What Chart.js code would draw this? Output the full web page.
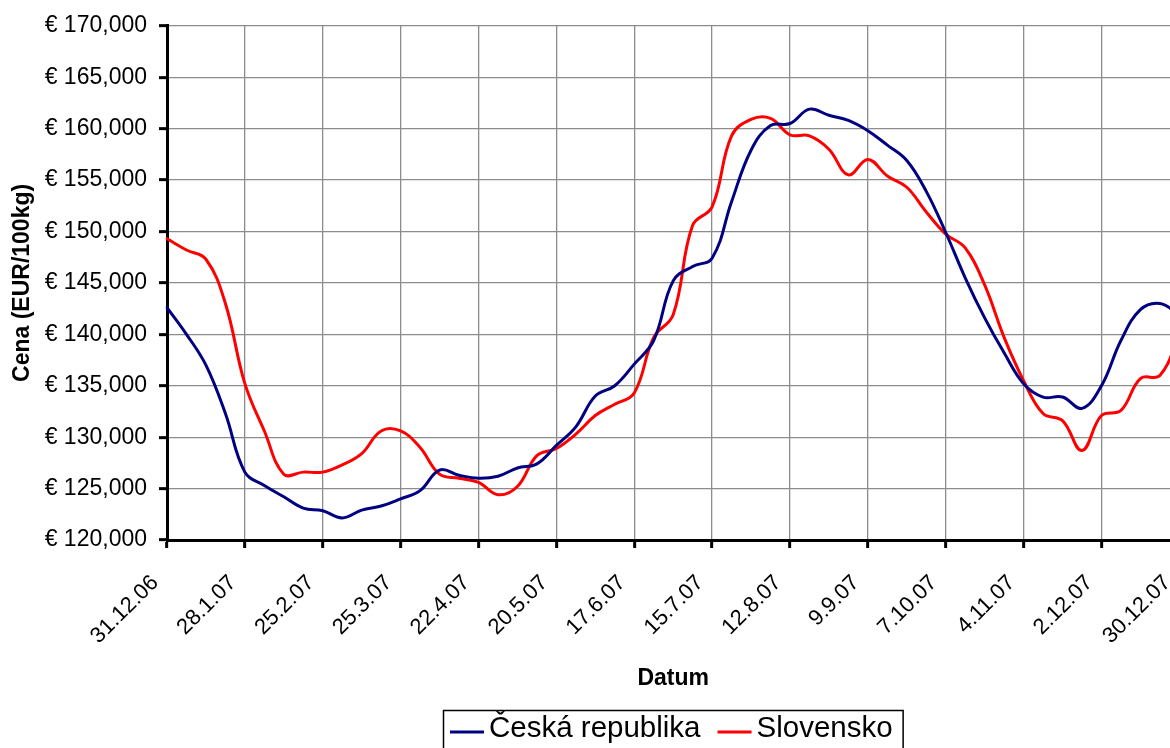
<!DOCTYPE html>
<html>
<head>
<meta charset="utf-8">
<script src="https://cdn.jsdelivr.net/npm/chart.js@4/dist/chart.umd.min.js"></script>
<style>
  html, body { margin: 0; padding: 0; background: #fff; overflow: hidden; }
  canvas { display: block; }
</style>
</head>
<body>
<canvas id="c" width="1220" height="748"></canvas>
<script>
// weekly dates (Sunday), every 4th one is labelled on the axis
const weeks = [
  '31.12.06', '7.1.07', '14.1.07', '21.1.07', '28.1.07', '4.2.07', '11.2.07', '18.2.07',
  '25.2.07', '4.3.07', '11.3.07', '18.3.07', '25.3.07', '1.4.07', '8.4.07', '15.4.07',
  '22.4.07', '29.4.07', '6.5.07', '13.5.07', '20.5.07', '27.5.07', '3.6.07', '10.6.07',
  '17.6.07', '24.6.07', '1.7.07', '8.7.07', '15.7.07', '22.7.07', '29.7.07', '5.8.07',
  '12.8.07', '19.8.07', '26.8.07', '2.9.07', '9.9.07', '16.9.07', '23.9.07', '30.9.07',
  '7.10.07', '14.10.07', '21.10.07', '28.10.07', '4.11.07', '11.11.07', '18.11.07', '25.11.07',
  '2.12.07', '9.12.07', '16.12.07', '23.12.07', '30.12.07'
];

const cz = [
  142600, 140000, 137000, 132300, 126600, 125300, 124200, 123100,
  122850, 122150, 122900, 123300, 124000, 124800, 126800, 126300,
  126000, 126200, 127000, 127400, 129200, 131000, 134000, 135000,
  137100, 139400, 145200, 146600, 147400, 152900, 157900, 160300,
  160500, 161900, 161300, 160800, 159800, 158400, 156900, 153900,
  149900, 145500, 141600, 138200, 135200, 133900, 133900, 132800,
  135000, 139400, 142400, 143000, 141900
];

const sk = [
  149300, 148200, 147300, 143000, 135200, 130600, 126400, 126600,
  126600, 127300, 128400, 130600, 130600, 129000, 126400, 126000,
  125600, 124400, 125200, 128200, 128900, 130300, 132100, 133200,
  134300, 139700, 141900, 150600, 152400, 159300, 160900, 161000,
  159400, 159300, 158000, 155500, 157000, 155400, 154300, 151900,
  149750, 148400, 144800, 139700, 135500, 132300, 131600, 128700,
  132100, 132600, 135700, 136000, 139900
];

const seriesNames = ['Česká republika', 'Slovensko'];
const FONT = 'Arial, "Liberation Sans", sans-serif';

// Excel style legend: short line sample, text, framed box under the plot
const boxLegend = {
  id: 'boxLegend',
  afterDraw(chart) {
    const ctx = chart.ctx;
    const area = chart.chartArea;
    ctx.save();
    ctx.font = '29.5px ' + FONT;
    const items = chart.data.datasets.map(ds => ({
      text: ds.label, color: ds.borderColor, w: ctx.measureText(ds.label).width
    }));
    const sample = 34, gap = 5, between = 17, padL = 7, padR = 10;
    let total = padL + padR + between * (items.length - 1);
    items.forEach(it => { total += sample + gap + it.w; });
    const left = Math.round((area.left + area.right) / 2 - total / 2);
    const top = 710;

    ctx.strokeStyle = '#000';
    ctx.lineWidth = 1.5;
    ctx.strokeRect(left + 0.5, top + 0.5, total, 60);

    let x = left + padL;
    ctx.textBaseline = 'alphabetic';
    ctx.textAlign = 'left';
    items.forEach(it => {
      ctx.strokeStyle = it.color;
      ctx.lineWidth = 3;
      ctx.beginPath();
      ctx.moveTo(x, 732);
      ctx.lineTo(x + sample, 732);
      ctx.stroke();
      x += sample + gap;
      ctx.fillStyle = '#000';
      ctx.fillText(it.text, x, 737);
      x += it.w + between;
    });
    ctx.restore();
  }
};

new Chart(document.getElementById('c'), {
  type: 'line',
  data: {
    labels: weeks,
    datasets: [
      { label: seriesNames[0], data: cz, borderColor: '#000080', backgroundColor: '#000080', borderWidth: 3 },
      { label: seriesNames[1], data: sk, borderColor: '#ff0000', backgroundColor: '#ff0000', borderWidth: 3 }
    ]
  },
  options: {
    responsive: false,
    animation: false,
    layout: { padding: { top: 23, left: 0, right: 0, bottom: 40 } },
    elements: {
      point: { radius: 0 },
      line: { tension: 0.4, borderCapStyle: 'round', borderJoinStyle: 'round' }
    },
    plugins: {
      tooltip: { enabled: false },
      legend: { display: false }
    },
    scales: {
      x: {
        offset: false,
        border: { color: '#000', width: 3 },
        grid: { color: '#8c8c8c', lineWidth: 1.3, tickColor: '#000', tickWidth: 3, tickLength: 8 },
        ticks: {
          autoSkip: false,
          minRotation: 45,
          maxRotation: 45,
          padding: 22,
          labelOffset: -12,
          color: '#000',
          font: { family: FONT, size: 22 },
          callback: (v, i) => (i % 4 === 0 ? weeks[i] : null)
        },
        title: {
          display: true,
          text: 'Datum',
          color: '#000',
          font: { family: FONT, size: 23, weight: 'bold' },
          padding: { top: 0, bottom: 16 }
        },
        afterFit: (s) => { s.height = 168; }
      },
      y: {
        min: 120000,
        max: 170000,
        border: { color: '#000', width: 3 },
        grid: { color: '#8c8c8c', lineWidth: 1.3, tickColor: '#000', tickWidth: 3, tickLength: 8 },
        ticks: {
          stepSize: 5000,
          padding: 12,
          color: '#000',
          font: { family: FONT, size: 23 },
          callback: (v) => '€ ' + v.toLocaleString('en-US')
        },
        title: {
          display: true,
          text: 'Cena (EUR/100kg)',
          color: '#000',
          font: { family: FONT, size: 23, weight: 'bold' },
          padding: { top: 9, bottom: 0 }
        },
        afterFit: (s) => { s.width = 167; }
      }
    }
  },
  plugins: [boxLegend]
});
</script>
</body>
</html>
